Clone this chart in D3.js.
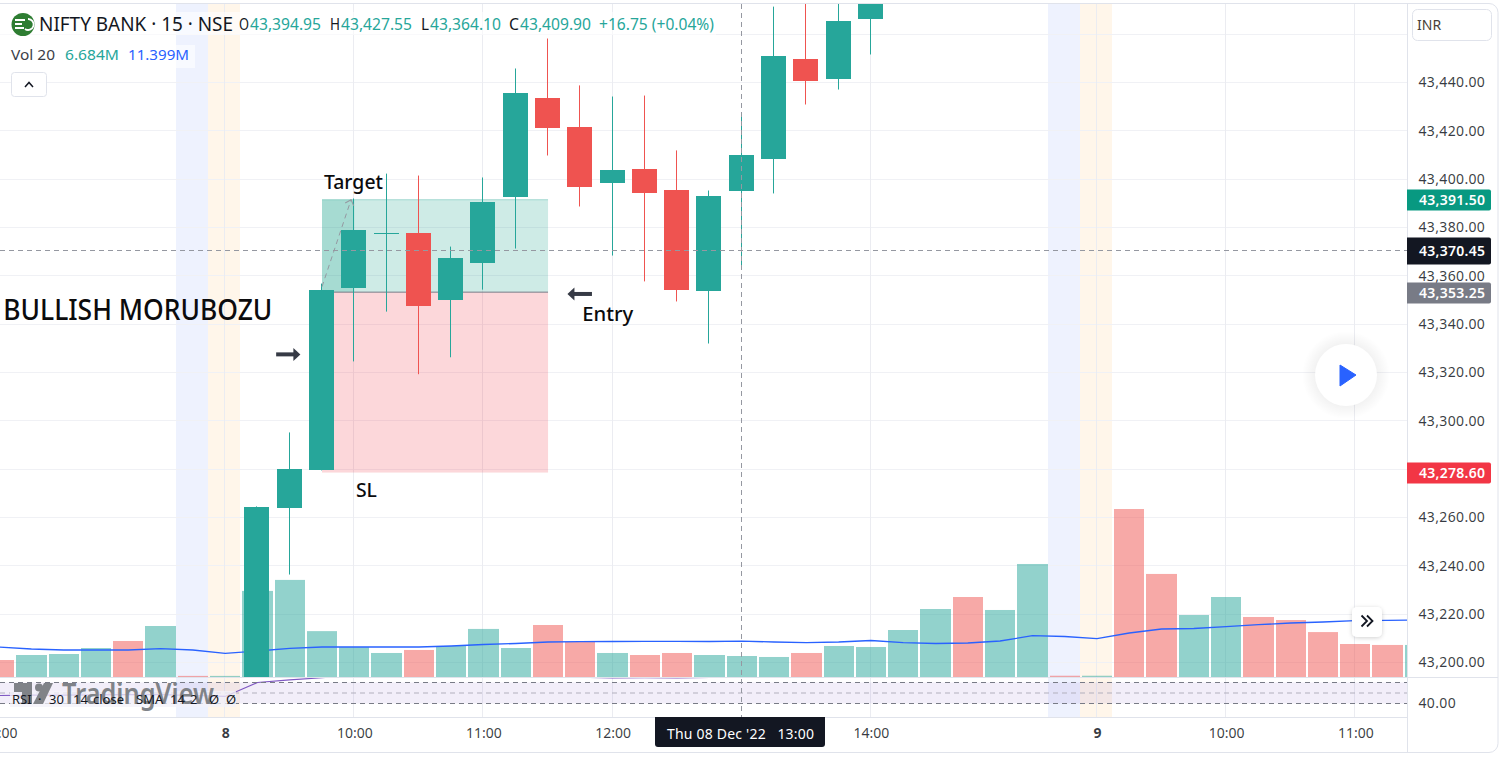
<!DOCTYPE html>
<html>
<head>
<meta charset="utf-8">
<script src="https://cdn.jsdelivr.net/npm/d3@7"></script>
<style>
  html, body { margin: 0; padding: 0; background: #fff; }
  svg { display: block; }
  text { font-family: "Noto Sans", sans-serif; }
</style>
</head>
<body>
<div id="chart"></div>
<script>
// bar index 0 is the 14:00 bar of 7 Dec, index 23 is the hovered 13:00 bar of 8 Dec
const candleBars = [8, 9, 10, 11, 12, 13, 14, 15, 16, 17, 18, 19, 20, 21, 22, 23, 24, 25, 26, 27];
const opens  = [43188.0, 43263.7, 43279.5, 43354.8, 43377.4, 43377.5, 43349.8, 43365.1, 43392.4, 43433.4, 43421.4, 43398.2, 43404.0, 43395.3, 43353.5, 43394.95, 43408.1, 43449.5, 43441.2, 43466.0];
const highs  = [43264.6, 43295.2, 43356.8, 43392.0, 43402.3, 43401.5, 43372.1, 43400.7, 43445.8, 43458.2, 43438.8, 43434.2, 43434.6, 43411.9, 43395.3, 43427.55, 43471.4, 43480.0, 43480.0, 43490.0];
const lows   = [43180.0, 43236.4, 43279.5, 43324.6, 43345.2, 43319.3, 43326.3, 43354.3, 43371.3, 43409.8, 43388.7, 43368.4, 43357.7, 43349.4, 43332.0, 43364.10, 43394.1, 43430.9, 43437.1, 43451.6];
const closes = [43264.1, 43279.9, 43353.9, 43378.8, 43377.6, 43347.4, 43367.2, 43390.3, 43435.4, 43421.0, 43396.6, 43403.6, 43394.1, 43353.9, 43392.8, 43409.90, 43450.8, 43440.4, 43465.2, 43485.0];

// volume in millions, one per bar from index 0
const volumes = [5.41, 7.0, 7.32, 9.23, 11.46, 16.23, 0.35, 0.35, 27.4, 30.9, 14.6, 9.5, 7.64, 8.6, 9.87, 15.3, 9.23, 16.55, 11.14, 7.64, 7.0, 7.64, 7.0, 6.684, 6.37, 7.64, 9.87, 9.55, 14.96, 21.64, 25.46, 21.33, 35.97, 0.4, 0.4, 53.47, 32.8, 19.73, 25.46, 19.1, 18.14, 14.3, 10.5, 10.2, 10.2];
const volumeUp = [0, 1, 1, 1, 0, 1, 0, 1, 1, 1, 1, 1, 1, 0, 1, 1, 1, 0, 0, 1, 0, 0, 1, 1, 1, 0, 1, 1, 1, 1, 0, 1, 1, 0, 1, 0, 0, 1, 1, 0, 0, 0, 0, 0, 1];
const volumeMa = [9.55, 8.91, 8.59, 8.59, 8.59, 9.0, 8.6, 7.54, 8.28, 9.14, 9.55, 9.55, 9.55, 9.55, 9.87, 10.35, 10.66, 11.14, 11.24, 11.3, 11.36, 11.36, 11.3, 11.399, 11.14, 10.92, 11.14, 11.62, 10.92, 10.66, 10.82, 11.46, 13.15, 12.89, 12.19, 14.0, 15.28, 15.44, 16.01, 16.65, 17.19, 17.5, 17.92, 18.05, 18.14];
const rsiValues = [47.6, 47.9, 48, 48.2, 48.4, 48.4, 47.6, 46.7, 60, 62.5, 64.5, 68, 68, 66, 67, 70, 75, 72, 65, 64.5, 64.7, 64.5, 64.8, 66, 72, 71, 74, 76];

const priceTicks = [43440, 43420, 43400, 43380, 43360, 43340, 43320, 43300, 43280, 43260, 43240, 43220, 43200];
const priceGrid = [43460].concat(priceTicks);
const timeBars = [0, 7, 11, 15, 19, 27, 34, 38, 42];
const timeLabels = ['14:00', '8', '10:00', '11:00', '12:00', '14:00', '9', '10:00', '11:00'];
const timeGridBars = [7, 11, 15, 19, 27, 34, 38, 42];
const preMarketBars = [6, 33];
const postMarketBars = [7, 34];
const rsiLevels = [60, 50, 40];
const rsiLegend = [['RSI', 12], ['·', 38], ['30', 49], ['14', 73], ['close', 93], ['SMA', 136], ['14', 170], ['2', 190], ['Ø', 209], ['Ø', 226]];

const entryPrice = 43353.25, targetPrice = 43391.5, stopPrice = 43278.6;
const crossBar = 23, crossPrice = 43370.45;

const W = 1501, H = 758;
const axisX = 1407.5, paneTop = 4, paneBottom = 677, rsiBottom = 717, frameBottom = 752;

const x = d3.scaleLinear().domain([0, 42]).range([-0.9, 1355.3]);
const y = d3.scaleLinear().domain([43200, 43440]).range([662.5, 82.5]);
const yVol = d3.scaleLinear().domain([0, 6.684]).range([677, 656]);
const yRsi = d3.scaleLinear().domain([40, 60]).range([703.5, 682.5]);

const UP = '#26a69a', DOWN = '#ef5350', INK = '#131722', GRID = '#f0f1f5', BORDER = '#e0e3eb';
const px = v => Math.round(v);
const fl = v => Math.floor(v);

const svg = d3.select('#chart').append('svg').attr('width', W).attr('height', H);
const defs = svg.append('defs');
defs.append('clipPath').attr('id', 'clipPrice').append('rect')
  .attr('x', 0).attr('y', paneTop).attr('width', axisX).attr('height', paneBottom - paneTop);
defs.append('clipPath').attr('id', 'clipRsi').append('rect')
  .attr('x', 0).attr('y', paneBottom + 1).attr('width', axisX).attr('height', rsiBottom - paneBottom - 1);
const shadow = defs.append('filter').attr('id', 'btnShadow')
  .attr('x', '-30%').attr('y', '-30%').attr('width', '160%').attr('height', '160%');
shadow.append('feDropShadow').attr('dx', 0).attr('dy', 1).attr('stdDeviation', 2)
  .attr('flood-color', '#000').attr('flood-opacity', 0.18);
const halo = defs.append('radialGradient').attr('id', 'playHalo');
halo.append('stop').attr('offset', '70%').attr('stop-color', '#000').attr('stop-opacity', 0.05);
halo.append('stop').attr('offset', '100%').attr('stop-color', '#000').attr('stop-opacity', 0);
defs.append('marker').attr('id', 'openHead').attr('viewBox', '0 0 12 12').attr('refX', 6).attr('refY', 6)
  .attr('markerWidth', 12).attr('markerHeight', 12).attr('markerUnits', 'userSpaceOnUse').attr('orient', 'auto')
  .append('path').attr('d', 'M1,1.5 L6,6 L1,10.5').attr('fill', 'none').attr('stroke', '#9598a1').attr('stroke-width', 1);

// session bands
const bands = svg.append('g');
const addBand = (bars, colour) => bands.selectAll(null).data(bars).enter().append('rect')
  .attr('x', d => px(x(d - 0.5)) - 1).attr('y', paneTop)
  .attr('width', d => px(x(d + 0.5)) - px(x(d - 0.5))).attr('height', rsiBottom - paneTop)
  .attr('fill', colour);
addBand(preMarketBars, '#eef2fe');
addBand(postMarketBars, '#fff6ea');

// grid
const grid = svg.append('g').attr('stroke', GRID).attr('stroke-width', 1).attr('shape-rendering', 'crispEdges');
grid.selectAll('.h').data(priceGrid).enter().append('line').attr('class', 'h')
  .attr('x1', 0).attr('x2', axisX).attr('y1', d => fl(y(d)) + 0.5).attr('y2', d => fl(y(d)) + 0.5);
grid.selectAll('.v').data(timeGridBars).enter().append('line').attr('class', 'v')
  .attr('y1', paneTop).attr('y2', rsiBottom).attr('x1', d => px(x(d)) - 0.5).attr('x2', d => px(x(d)) - 0.5)
  .attr('stroke', '#ebecf1');

// rsi pane
const rsiPane = svg.append('g').attr('clip-path', 'url(#clipRsi)');
rsiPane.append('rect').attr('x', 0).attr('width', axisX)
  .attr('y', yRsi(60)).attr('height', yRsi(40) - yRsi(60)).attr('fill', '#7e57c2').attr('fill-opacity', 0.1);
rsiPane.append('path').datum(rsiValues)
  .attr('fill', 'none').attr('stroke', '#7e57c2').attr('stroke-width', 1.2)
  .attr('d', d3.line().x((d, i) => x(i)).y(d => yRsi(d)));
svg.append('rect').attr('x', 10).attr('y', 691).attr('width', 226).attr('height', 16).attr('fill', '#f3f1fa').attr('fill-opacity', 0.75);
rsiPane.selectAll('.lvl').data(rsiLevels).enter().append('line').attr('class', 'lvl')
  .attr('x1', 0).attr('x2', axisX).attr('y1', d => yRsi(d)).attr('y2', d => yRsi(d))
  .attr('stroke', d => d === 50 ? '#b2b0bd' : '#787b86').attr('stroke-dasharray', '5,4');

// watermark
const mark = svg.append('g').attr('fill', '#808388');
mark.append('path').attr('d', 'M14,683 H32 V704 H22 V692 H14 Z');
mark.append('circle').attr('cx', 39).attr('cy', 687.5).attr('r', 4);
mark.append('path').attr('d', 'M44,683 H53 L43,704 H33 Z');
mark.append('text').attr('x', 62).attr('y', 704).attr('font-size', 29).attr('font-weight', 600)
  .attr('textLength', 152).attr('lengthAdjust', 'spacingAndGlyphs').text('TradingView');

svg.selectAll('.rsiLegend').data(rsiLegend).enter().append('text').attr('class', 'rsiLegend')
  .attr('x', d => d[1]).attr('y', 704).attr('font-size', 13).attr('fill', INK).text(d => d[0]);

// price pane
const pane = svg.append('g').attr('clip-path', 'url(#clipPrice)');
pane.selectAll('.vol').data(volumes).enter().append('rect').attr('class', 'vol')
  .attr('x', (d, i) => px(x(i - 0.5)) + 1)
  .attr('width', (d, i) => px(x(i + 0.5)) - px(x(i - 0.5)) - 2)
  .attr('y', d => yVol(d))
  .attr('height', d => yVol(0) - yVol(d))
  .attr('fill', (d, i) => volumeUp[i] ? UP : DOWN)
  .attr('fill-opacity', 0.5);
pane.append('path').datum(volumeMa)
  .attr('fill', 'none').attr('stroke', '#2962ff').attr('stroke-width', 1.3)
  .attr('d', d3.line().x((d, i) => x(i)).y(d => yVol(d)));

// long position box, drawn under the candles
const boxLeft = x(10), boxRight = x(17);
pane.append('rect').attr('x', boxLeft).attr('width', boxRight - boxLeft)
  .attr('y', y(targetPrice)).attr('height', y(entryPrice) - y(targetPrice))
  .attr('fill', '#089981').attr('fill-opacity', 0.2);
pane.append('rect').attr('x', boxLeft).attr('width', x(11) - boxLeft)
  .attr('y', y(targetPrice)).attr('height', y(entryPrice) - y(targetPrice))
  .attr('fill', '#089981').attr('fill-opacity', 0.2);
pane.append('rect').attr('x', boxLeft).attr('width', boxRight - boxLeft)
  .attr('y', y(entryPrice)).attr('height', y(stopPrice) - y(entryPrice))
  .attr('fill', '#f23645').attr('fill-opacity', 0.2);
pane.append('line').attr('x1', boxLeft).attr('x2', boxRight).attr('y1', y(entryPrice)).attr('y2', y(entryPrice))
  .attr('stroke', '#787b86');
pane.append('line').attr('x1', boxLeft).attr('x2', boxRight).attr('y1', y(targetPrice)).attr('y2', y(targetPrice))
  .attr('stroke', '#089981').attr('stroke-opacity', 0.3);

// candles
const candles = pane.selectAll('.candle').data(candleBars).enter().append('g').attr('class', 'candle')
  .attr('fill', (d, i) => closes[i] >= opens[i] ? UP : DOWN);
candles.append('rect')
  .attr('x', d => px(x(d)) - 1).attr('width', 1)
  .attr('y', (d, i) => y(highs[i])).attr('height', (d, i) => y(lows[i]) - y(highs[i]));
candles.append('rect')
  .attr('x', d => px(x(d)) - 13).attr('width', 25)
  .attr('y', (d, i) => fl(y(Math.max(opens[i], closes[i]))))
  .attr('height', (d, i) => Math.max(1, fl(y(Math.min(opens[i], closes[i]))) - fl(y(Math.max(opens[i], closes[i])))));

// crosshair
const cross = svg.append('g').attr('stroke', '#9598a1').attr('stroke-dasharray', '5,4');
cross.append('line').attr('x1', 0).attr('x2', axisX).attr('y1', fl(y(crossPrice)) + 0.5).attr('y2', fl(y(crossPrice)) + 0.5);
cross.append('line').attr('x1', px(x(crossBar)) - 0.5).attr('x2', px(x(crossBar)) - 0.5).attr('y1', paneTop).attr('y2', rsiBottom);

// drawings on the chart
svg.append('line').attr('x1', x(10)).attr('y1', y(43355.5)).attr('x2', x(10.9)).attr('y2', y(targetPrice))
  .attr('stroke', '#9598a1').attr('stroke-dasharray', '5,4').attr('marker-end', 'url(#openHead)');

const notes = [
  { text: 'BULLISH MORUBOZU', bar: 0.13, price: 43341.7, size: 29, width: 269, weight: 500 },
  { text: 'Target', bar: 10.06, price: 43395.9, size: 19, width: 59, weight: 500 },
  { text: 'SL', bar: 11.05, price: 43268.4, size: 19, width: 21, weight: 500 },
  { text: 'Entry', bar: 18.06, price: 43341.3, size: 19, width: 51, weight: 500 }
];
svg.selectAll('.note').data(notes).enter().append('text').attr('class', 'note')
  .attr('x', d => x(d.bar)).attr('y', d => y(d.price))
  .attr('font-size', d => d.size).attr('font-weight', d => d.weight).attr('fill', '#0b0b0d')
  .attr('textLength', d => d.width).attr('lengthAdjust', 'spacingAndGlyphs').text(d => d.text);

const arrows = [
  { from: 8.58, to: 9.33, price: 43327.5 },
  { from: 18.36, to: 17.6, price: 43352.5 }
];
const arrowG = svg.selectAll('.arrow').data(arrows).enter().append('g').attr('class', 'arrow');
arrowG.append('line').attr('x1', d => x(d.from)).attr('x2', d => x(d.to) - (d.to > d.from ? 5 : -5))
  .attr('y1', d => y(d.price)).attr('y2', d => y(d.price)).attr('stroke', '#363a45').attr('stroke-width', 4);
arrowG.append('path').attr('fill', '#363a45').attr('d', d => {
  const tip = x(d.to), dir = d.to > d.from ? -1 : 1, cy = y(d.price);
  return `M${tip},${cy} L${tip + dir * 7},${cy - 6.5} L${tip + dir * 7},${cy + 6.5} Z`;
});

// axes
const axisBg = svg.append('g');
axisBg.append('rect').attr('x', axisX).attr('y', paneTop).attr('width', W - axisX - 3).attr('height', frameBottom - paneTop).attr('fill', '#fff');

const priceAxis = svg.append('g').attr('transform', `translate(${axisX},0)`)
  .call(d3.axisRight(y).tickValues(priceTicks).tickFormat(d3.format(',.2f')).tickSize(0).tickPadding(11));
const rsiAxis = svg.append('g').attr('transform', `translate(${axisX},0)`)
  .call(d3.axisRight(yRsi).tickValues([40]).tickFormat(d3.format('.2f')).tickSize(0).tickPadding(11));
const timeAxis = svg.append('g').attr('transform', `translate(0,${rsiBottom})`)
  .call(d3.axisBottom(x).tickValues(timeBars).tickFormat((d, i) => timeLabels[i]).tickSize(0).tickPadding(11));
[priceAxis, rsiAxis, timeAxis].forEach(a => {
  a.select('.domain').remove();
  a.selectAll('text').attr('font-family', '"Noto Sans", sans-serif').attr('font-size', 14).attr('fill', INK).attr('fill-opacity', 0.85);
});
priceAxis.selectAll('text').attr('letter-spacing', '0.35px');
rsiAxis.selectAll('text').attr('letter-spacing', '0.35px');
timeAxis.selectAll('text').attr('font-weight', (d, i) => timeLabels[i].length === 1 ? 700 : 400);

// frame
const frame = svg.append('g').attr('fill', 'none').attr('stroke', BORDER).attr('shape-rendering', 'crispEdges');
frame.append('line').attr('x1', 0).attr('x2', axisX).attr('y1', rsiBottom + 0.5).attr('y2', rsiBottom + 0.5);
frame.append('line').attr('x1', 0).attr('x2', W - 3).attr('y1', paneBottom + 0.5).attr('y2', paneBottom + 0.5);
frame.append('line').attr('x1', axisX).attr('x2', axisX).attr('y1', paneTop).attr('y2', frameBottom);
svg.append('rect').attr('x', -10).attr('y', 3.5).attr('width', 1508).attr('height', 749).attr('rx', 9)
  .attr('fill', 'none').attr('stroke', BORDER);

// price tags on the axis
const tags = [
  { price: targetPrice, colour: '#089981', h: 21 },
  { price: crossPrice, colour: INK, h: 27 },
  { price: entryPrice, colour: '#787b86', h: 21 },
  { price: stopPrice, colour: '#f23645', h: 21 }
];
const tagG = svg.selectAll('.tag').data(tags).enter().append('g').attr('class', 'tag');
tagG.append('path').attr('fill', d => d.colour).attr('d', d => {
  const top = fl(y(d.price)) - Math.floor(d.h / 2) + 0.5;
  return `M1407,${top} H1489 a2,2 0 0 1 2,2 V${top + d.h - 2} a2,2 0 0 1 -2,2 H1407 Z`;
});
tagG.append('text').attr('x', 1419).attr('y', d => fl(y(d.price)) + 5.5)
  .attr('font-size', 14).attr('font-weight', 600).attr('fill', '#fff')
  .attr('textLength', 66).attr('lengthAdjust', 'spacing')
  .text(d => d3.format(',.2f')(d.price));

// crosshair time tag
svg.append('path').attr('fill', INK)
  .attr('d', 'M655,717 H825 V744 a3,3 0 0 1 -3,3 H658 a3,3 0 0 1 -3,-3 Z');
svg.append('text').attr('x', 667).attr('y', 739).attr('font-size', 14).attr('fill', '#fff')
  .attr('textLength', 147).attr('lengthAdjust', 'spacing').attr('xml:space', 'preserve').text("Thu 08 Dec '22   13:00");

// legend backdrop + text
const legend = svg.append('g');
legend.append('rect').attr('x', 0).attr('y', 12).attr('width', 716).attr('height', 23).attr('fill', '#fff').attr('fill-opacity', 0.6);
legend.append('rect').attr('x', 0).attr('y', 45).attr('width', 195).attr('height', 23).attr('fill', '#fff').attr('fill-opacity', 0.6);
legend.append('circle').attr('cx', 23).attr('cy', 24.5).attr('r', 11.5).attr('fill', '#2e7d32');
legend.append('path').attr('fill', 'none').attr('stroke', '#fff').attr('stroke-width', 1.8)
  .attr('d', 'M15,20 H25 M15,24 H22 M15,28 H24 M28,19 A5.5,5.5 0 1 1 25,29');

const legendItems = [
  { text: 'NIFTY BANK · 15 · NSE', x: 39, y: 31, w: 194, size: 19, fill: INK },
  { text: 'O', x: 239, y: 30, w: 10, size: 16, fill: INK },
  { text: '43,394.95', x: 250, y: 30, w: 71, size: 16, fill: UP },
  { text: 'H', x: 330, y: 30, w: 10, size: 16, fill: INK },
  { text: '43,427.55', x: 341, y: 30, w: 71, size: 16, fill: UP },
  { text: 'L', x: 421, y: 30, w: 8, size: 16, fill: INK },
  { text: '43,364.10', x: 430, y: 30, w: 71, size: 16, fill: UP },
  { text: 'C', x: 509, y: 30, w: 10, size: 16, fill: INK },
  { text: '43,409.90', x: 520, y: 30, w: 71, size: 16, fill: UP },
  { text: '+16.75 (+0.04%)', x: 599, y: 30, w: 115, size: 16, fill: UP },
  { text: 'Vol 20', x: 11, y: 60, w: 44, size: 15, fill: '#3b3e48' },
  { text: '6.684M', x: 65, y: 60, w: 54, size: 15, fill: UP },
  { text: '11.399M', x: 128, y: 60, w: 61, size: 15, fill: '#2962ff' }
];
legend.selectAll('.li').data(legendItems).enter().append('text').attr('class', 'li')
  .attr('x', d => d.x).attr('y', d => d.y).attr('font-size', d => d.size).attr('fill', d => d.fill)
  .attr('textLength', d => d.w).attr('lengthAdjust', 'spacingAndGlyphs').text(d => d.text);

// buttons
const ui = svg.append('g');
ui.append('rect').attr('x', 11.5).attr('y', 72.5).attr('width', 35).attr('height', 24).attr('rx', 3)
  .attr('fill', '#fff').attr('stroke', BORDER);
ui.append('path').attr('d', 'M25,87 L29,82.5 L33,87').attr('fill', 'none').attr('stroke', INK).attr('stroke-width', 1.5);

ui.append('rect').attr('x', 1412.5).attr('y', 9.5).attr('width', 79).attr('height', 31).attr('rx', 5)
  .attr('fill', '#fff').attr('stroke', BORDER);
ui.append('text').attr('x', 1417).attr('y', 30).attr('font-size', 14).attr('fill', '#4a3f38').text('INR');

ui.append('circle').attr('cx', 1346).attr('cy', 375).attr('r', 44).attr('fill', 'url(#playHalo)');
ui.append('circle').attr('cx', 1346).attr('cy', 375).attr('r', 31).attr('fill', '#fff');
ui.append('path').attr('d', 'M1340,365 L1356,375 L1340,386 Z').attr('fill', '#2962ff')
  .attr('stroke', '#2962ff').attr('stroke-linejoin', 'round');

ui.append('rect').attr('x', 1352).attr('y', 607).attr('width', 30).attr('height', 30).attr('rx', 5)
  .attr('fill', '#fff').attr('filter', 'url(#btnShadow)');
ui.append('path').attr('d', 'M1361.5,615.5 L1367,621 L1361.5,626.5 M1367,615.5 L1372.5,621 L1367,626.5')
  .attr('fill', 'none').attr('stroke', INK).attr('stroke-width', 1.8);
</script>
</body>
</html>
